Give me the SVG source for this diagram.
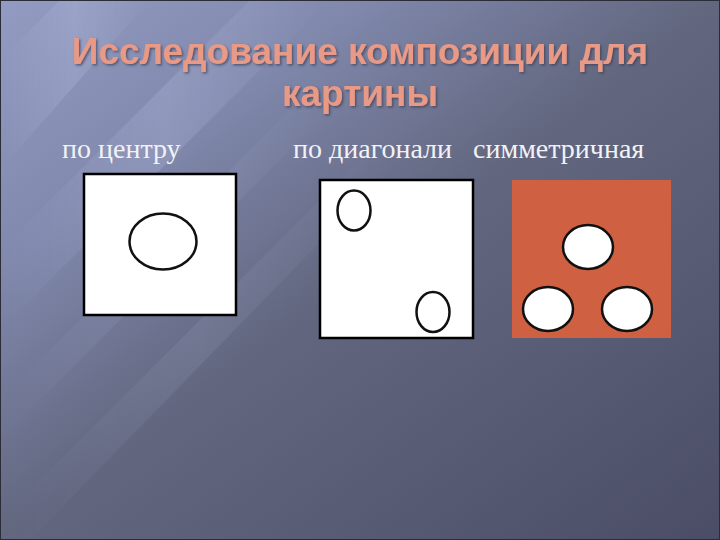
<svg xmlns="http://www.w3.org/2000/svg" width="720" height="540" viewBox="0 0 720 540">
<defs>
<linearGradient id="bg" x1="0" y1="0" x2="1" y2="1">
<stop offset="0" stop-color="#939bc2"/>
<stop offset="0.25" stop-color="#8088ac"/>
<stop offset="0.5" stop-color="#62677f"/>
<stop offset="1" stop-color="#4a4d65"/>
</linearGradient>
<linearGradient id="streak" x1="0" y1="0" x2="1" y2="0">
<stop offset="0" stop-color="#c8d0f0" stop-opacity="0"/>
<stop offset="0.5" stop-color="#c8d0f0" stop-opacity="0.25"/>
<stop offset="1" stop-color="#c8d0f0" stop-opacity="0"/>
</linearGradient>
<filter id="sh" x="-5%" y="-20%" width="110%" height="140%">
<feDropShadow dx="1.5" dy="1.5" stdDeviation="1" flood-color="#3a3c50" flood-opacity="0.7"/>
</filter>
</defs>
<style>
.title{font-family:"Liberation Sans",Arial,sans-serif;font-weight:bold;font-size:37px;fill:#e99a86;text-anchor:middle}
.lbl{font-family:"Liberation Serif","Times New Roman",serif;font-size:28px;fill:#f2f2f6}
.frame{fill:#ffffff;stroke:#000000;stroke-width:2.5}
.ring{fill:#ffffff;stroke:#111111;stroke-width:2.5}
</style>
<rect x="0" y="0" width="720" height="540" fill="url(#bg)"/>
<g opacity="0.8">
<polygon points="0,60 60,0 150,0 0,170" fill="url(#streak)"/>
<polygon points="0,250 250,0 330,0 0,330" fill="url(#streak)"/>
<polygon points="0,400 290,110 330,110 0,440" fill="url(#streak)" opacity="0.6"/>
<polygon points="0,520 360,160 400,160 30,540 0,540" fill="url(#streak)" opacity="0.5"/>
</g>
<rect x="0.5" y="0.5" width="719" height="539" fill="none" stroke="#2a2c38" stroke-width="1"/>
<g id="title" filter="url(#sh)">
<text class="title" x="360" y="64">Исследование композиции для</text>
<text class="title" x="360" y="106">картины</text>
</g>
<g id="label-center"><text class="lbl" x="62" y="158">по центру</text></g>
<g id="label-diagonal"><text class="lbl" x="293" y="158">по диагонали</text></g>
<g id="label-symmetric"><text class="lbl" x="473" y="158">симметричная</text></g>
<g id="center">
<rect class="frame" x="84" y="174" width="152" height="141"/>
<ellipse class="ring" cx="163" cy="241.5" rx="33.5" ry="28"/>
</g>
<g id="diagonal">
<rect class="frame" x="320" y="180" width="153" height="158"/>
<ellipse class="ring" cx="354" cy="210.5" rx="16.5" ry="20"/>
<ellipse class="ring" cx="433" cy="312" rx="16.5" ry="20"/>
</g>
<g id="symmetric">
<rect x="512" y="180" width="159" height="158" fill="#cf6142"/>
<ellipse class="ring" cx="588" cy="247" rx="25" ry="22"/>
<ellipse class="ring" cx="548" cy="309" rx="25" ry="22"/>
<ellipse class="ring" cx="627" cy="309" rx="25" ry="22"/>
</g>
</svg>
